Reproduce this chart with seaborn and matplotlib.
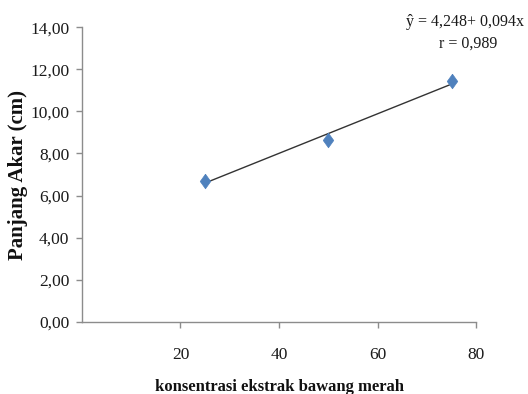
import numpy as np
import pandas as pd
import matplotlib
matplotlib.use("Agg")
import matplotlib.pyplot as plt
import seaborn as sns

# Root length vs. shallot extract concentration
konsentrasi = [25, 50, 75]
panjang_akar = [6.70, 8.65, 11.42]

# Fitted regression coefficients (as stated in the equation label)
intercept = 4.248
slope = 0.094
r_value = 0.989

x_ticks = [20, 40, 60, 80]
y_ticks = [0, 2, 4, 6, 8, 10, 12, 14]

sns.set_theme(style="white")
plt.rcParams["font.family"] = ["Liberation Serif", "DejaVu Serif"]

fig = plt.figure(figsize=(5.28, 3.94), dpi=100)
ax = fig.add_axes([0.155, 0.183, 0.747, 0.748])

df = pd.DataFrame({"x": konsentrasi, "y": panjang_akar})
fit_x = [min(konsentrasi), max(konsentrasi)]
fit = pd.DataFrame({"x": fit_x, "y": [intercept + slope * v for v in fit_x]})

sns.lineplot(data=fit, x="x", y="y", ax=ax, color="#333333", linewidth=1.0)

diamond = [(0, 1), (0.72, 0), (0, -1), (-0.72, 0), (0, 1)]
sns.scatterplot(data=df, x="x", y="y", ax=ax, marker=diamond, s=110,
                color="#4F81BD", edgecolor="#4F81BD", linewidth=0.5, zorder=3)

ax.set_xlim(0, 80)
ax.set_ylim(0, 14)
ax.set_xticks(x_ticks)
ax.set_yticks(y_ticks)
ax.set_yticklabels([f"{v:.2f}".replace(".", ",") for v in y_ticks])

for side in ("top", "right"):
    ax.spines[side].set_visible(False)
for side in ("left", "bottom"):
    ax.spines[side].set_color("#8c8c8c")
    ax.spines[side].set_linewidth(1.0)

ax.tick_params(axis="x", direction="out", length=4, width=1, color="#8c8c8c",
               pad=14, labelsize=12.5, labelcolor="#1a1a1a", bottom=True)
ax.tick_params(axis="y", direction="out", length=4, width=1, color="#8c8c8c",
               pad=5, labelsize=12.5, labelcolor="#1a1a1a", left=True)

ax.set_xlabel("konsentrasi ekstrak bawang merah", fontsize=12,
              fontweight="bold", color="#111111")
ax.set_ylabel("Panjang Akar (cm)", fontsize=15, fontweight="bold",
              color="#111111")
ax.xaxis.set_label_coords(0.5, -0.222)
ax.yaxis.set_label_coords(-0.162, 0.5)
ax.xaxis.label.set_va("center")
ax.yaxis.label.set_va("center")

fig.text(0.880, 0.945, "ŷ = 4,248+ 0,094x", ha="center", va="center",
         fontsize=11.5, color="#1a1a1a")
fig.text(0.886, 0.888, f"r = {r_value:.3f}".replace(".", ","), ha="center",
         va="center", fontsize=11.5, color="#1a1a1a")

fig.savefig("out.png", dpi=100)
